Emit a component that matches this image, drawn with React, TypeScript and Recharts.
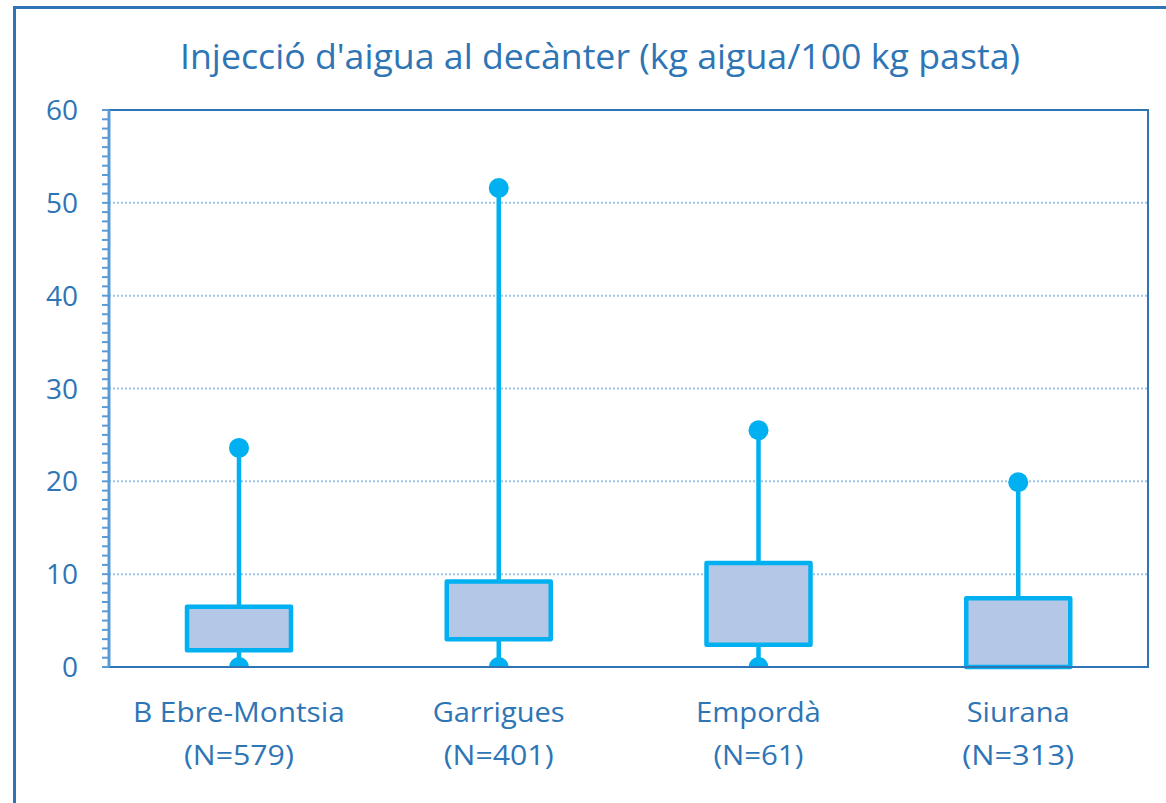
import React from 'react';
import { ComposedChart, Bar, XAxis, YAxis, CartesianGrid, ReferenceArea } from 'recharts';

const categories = ['B Ebre-Montsia', 'Garrigues', 'Empordà', 'Siurana'];
const counts = [579, 401, 61, 313];
const minVals = [0, 0, 0, 0];
const q1Vals = [1.8, 3.0, 2.4, 0];
const q3Vals = [6.5, 9.2, 11.2, 7.4];
const maxVals = [23.6, 51.6, 25.5, 19.9];

const majorTicks = [0, 10, 20, 30, 40, 50, 60];
const minorTicks = Array.from({ length: 61 }, (_, i) => i);
const gridValues = [10, 20, 30, 40, 50];

const labelWidths: Record<string, number> = {
  'B Ebre-Montsia': 212,
  'Garrigues': 132,
  'Empordà': 125,
  'Siurana': 103,
};
const nWidths: Record<string, number> = {
  '(N=579)': 110,
  '(N=401)': 110,
  '(N=61)': 90,
  '(N=313)': 112,
};

const data = categories.map((name, i) => ({
  name,
  n: counts[i],
  min: minVals[i],
  q1: q1Vals[i],
  q3: q3Vals[i],
  max: maxVals[i],
  range: [minVals[i], maxVals[i]],
}));

const TEXT = '#2E75B6';
const CYAN = '#00B0F0';
const FONT = '"Open Sans", sans-serif';

const BoxShape = (props: any) => {
  const { x, y, width, height, payload } = props;
  const { min, q1, q3, max } = payload;
  const top = Math.min(y, y + height);
  const bottom = Math.max(y, y + height);
  const span = max - min || 1;
  const yOf = (v: number) => bottom - ((bottom - top) * (v - min)) / span;
  const cx = x + width / 2;
  const r = 10;
  const yMin = yOf(min);
  const yMax = yOf(max);
  const yQ1 = yOf(q1);
  const yQ3 = yOf(q3);
  return (
    <g>
      <line x1={cx} x2={cx} y1={yMax} y2={yQ3} stroke={CYAN} strokeWidth={4.5} />
      <line x1={cx} x2={cx} y1={yQ1} y2={yMin} stroke={CYAN} strokeWidth={4.5} />
      <circle cx={cx} cy={yMax} r={r} fill={CYAN} />
      <path d={`M ${cx - r} ${yMin} A ${r} ${r} 0 0 1 ${cx + r} ${yMin} Z`} fill={CYAN} />
      <rect
        x={x}
        y={yQ3}
        width={width}
        height={Math.max(0, yQ1 - yQ3)}
        fill="#B4C7E7"
        stroke={CYAN}
        strokeWidth={4.5}
        strokeLinejoin="round"
      />
    </g>
  );
};

const XTick = (props: any) => {
  const { x, y, payload } = props;
  const name = payload.value as string;
  const item = data.find((d) => d.name === name);
  const nLabel = `(N=${item ? item.n : ''})`;
  return (
    <g>
      <text
        x={x}
        y={y + 55}
        textAnchor="middle"
        fill={TEXT}
        fontSize={28}
        fontFamily={FONT}
        textLength={labelWidths[name]}
        lengthAdjust="spacingAndGlyphs"
      >
        {name}
      </text>
      <text
        x={x}
        y={y + 98}
        textAnchor="middle"
        fill={TEXT}
        fontSize={28}
        fontFamily={FONT}
        textLength={nWidths[nLabel]}
        lengthAdjust="spacingAndGlyphs"
      >
        {nLabel}
      </text>
    </g>
  );
};

const YTick = (props: any) => {
  const { x, y, payload } = props;
  const v = payload.value as number;
  if (!majorTicks.includes(v)) return <g />;
  return (
    <text x={x} y={y + 10} textAnchor="end" fill={TEXT} fontSize={28} fontFamily={FONT}>
      {v}
    </text>
  );
};

export default function App() {
  return (
    <div
      style={{
        position: 'absolute',
        left: 0,
        top: 0,
        width: 1166,
        height: 803,
        background: '#fff',
        overflow: 'hidden',
      }}
    >
      <div
        style={{
          position: 'absolute',
          left: 12.5,
          top: 5.8,
          width: 1200,
          height: 900,
          borderLeft: `3px solid ${TEXT}`,
          borderTop: `3px solid ${TEXT}`,
          boxSizing: 'border-box',
        }}
      />
      <svg
        width={1166}
        height={100}
        style={{ position: 'absolute', left: 0, top: 0 }}
      >
        <text
          x={600}
          y={69}
          textAnchor="middle"
          fill={TEXT}
          fontSize={34}
          fontFamily={FONT}
          textLength={840}
          lengthAdjust="spacingAndGlyphs"
        >
          Injecció d'aigua al decànter (kg aigua/100 kg pasta)
        </text>
      </svg>
      <div style={{ position: 'absolute', left: 0, top: 0 }}>
        <ComposedChart
          width={1166}
          height={803}
          data={data}
          margin={{ top: 110, right: 18, bottom: 0, left: 0 }}
        >
          <CartesianGrid
            vertical={false}
            horizontalValues={gridValues}
            stroke="#9DC3E6"
            strokeWidth={2}
            strokeDasharray="2 2"
          />
          <ReferenceArea y1={0} y2={60} fill="none" stroke={TEXT} strokeWidth={2} ifOverflow="visible" />
          <XAxis
            dataKey="name"
            height={136}
            axisLine={{ stroke: TEXT, strokeWidth: 2 }}
            tickLine={false}
            tickSize={0}
            tickMargin={0}
            tick={<XTick />}
            interval={0}
          />
          <YAxis
            width={109}
            domain={[0, 60]}
            ticks={minorTicks}
            interval={0}
            tickSize={7}
            tickMargin={24}
            axisLine={{ stroke: '#5B9BD5', strokeWidth: 3 }}
            tickLine={{ stroke: '#5B9BD5', strokeWidth: 2 }}
            tick={<YTick />}
          />
          <Bar dataKey="range" barSize={104} shape={<BoxShape />} isAnimationActive={false} />
        </ComposedChart>
      </div>
    </div>
  );
}
